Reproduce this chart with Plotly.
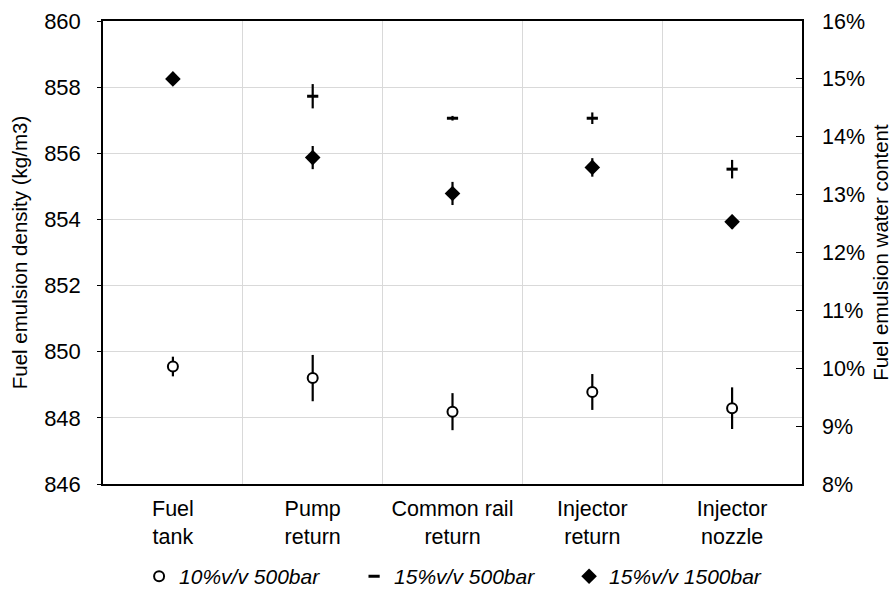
import plotly.graph_objects as go

categories = ["Fuel<br>tank", "Pump<br>return", "Common rail<br>return", "Injector<br>return", "Injector<br>nozzle"]

# water content (fraction) and error (fraction)
s1_name = "10%v/v 500bar"
s1_val = [0.1003, 0.0983, 0.0925, 0.0959, 0.0931]
s1_err = [0.0017, 0.0040, 0.0032, 0.0031, 0.0036]

s2_name = "15%v/v 500bar"
s2_val = [0.1500, 0.1470, 0.1432, 0.1432, 0.1344]
s2_err = [0.0000, 0.0021, 0.0004, 0.0010, 0.0016]

s3_name = "15%v/v 1500bar"
s3_val = [0.1500, 0.1364, 0.1302, 0.1347, 0.1253]
s3_err = [0.0000, 0.0020, 0.0020, 0.0016, 0.0012]

left_ticks = [846, 848, 850, 852, 854, 856, 858, 860]
right_ticks = [0.08, 0.09, 0.10, 0.11, 0.12, 0.13, 0.14, 0.15, 0.16]

FONT = "Liberation Sans, Arial, sans-serif"

fig = go.Figure()

def err(a):
    return dict(type="data", array=a, color="black", thickness=2.2, width=0, visible=True)

fig.add_trace(go.Scatter(
    x=categories, y=s2_val, yaxis="y2", mode="markers", name=s2_name,
    marker=dict(symbol="line-ew", size=8, color="black", line=dict(color="black", width=3)),
    error_y=err(s2_err), legendrank=2))
fig.add_trace(go.Scatter(
    x=categories, y=s3_val, yaxis="y2", mode="markers", name=s3_name,
    marker=dict(symbol="diamond", size=12, color="black", line=dict(color="black", width=0)),
    error_y=err(s3_err), legendrank=3))
fig.add_trace(go.Scatter(
    x=categories, y=s1_val, yaxis="y2", mode="markers", name=s1_name,
    marker=dict(symbol="circle", size=10, color="white", line=dict(color="black", width=2)),
    error_y=err(s1_err), legendrank=1))

# dummy trace to activate left axis
fig.add_trace(go.Scatter(x=categories, y=[None]*5, yaxis="y", showlegend=False, hoverinfo="skip"))

fig.update_layout(
    width=892, height=590,
    margin=dict(l=103, r=90, t=21, b=106, autoexpand=False),
    paper_bgcolor="white", plot_bgcolor="white",
    font=dict(family=FONT, size=21.5, color="black"),
    showlegend=True,
    legend=dict(orientation="h", x=0.513, xanchor="center", y=-0.2, yanchor="middle",
                font=dict(family=FONT, size=21, style="italic"),
                traceorder="normal", entrywidth=170, itemwidth=30),
    xaxis=dict(type="category", categoryorder="array", categoryarray=categories,
               tickson="boundaries", showgrid=True, gridcolor="#d9d9d9", gridwidth=1,
               ticks="", showline=True, linecolor="black", linewidth=1.5, mirror=True,
               tickfont=dict(size=21.5), range=[-0.5, 4.5], automargin=False,
               ticklabelstandoff=4),
    yaxis=dict(range=[846, 860], tickvals=left_ticks, showgrid=True, gridcolor="#d9d9d9",
               gridwidth=1, ticks="outside", ticklen=4, tickcolor="black",
               showline=True, linecolor="black", linewidth=1.5, zeroline=False,
               tickfont=dict(size=22), automargin=False, ticklabelstandoff=12,
               title=dict(text="Fuel emulsion density (kg/m3)", font=dict(size=20.5), standoff=11)),
    yaxis2=dict(range=[0.08, 0.16], tickvals=right_ticks, tickformat=".0%", overlaying="y",
                side="right", showgrid=False, ticks="inside", ticklen=6, tickcolor="black",
                showline=True, linecolor="black", linewidth=1.5, zeroline=False,
                tickfont=dict(size=21.5), automargin=False, ticklabelstandoff=14,
                title=dict(text="Fuel emulsion water content", font=dict(size=20.5), standoff=11)),
)

fig.write_html("out.html", config={"displayModeBar": False},
               post_script="document.body.style.margin='0';document.body.style.padding='0';")
